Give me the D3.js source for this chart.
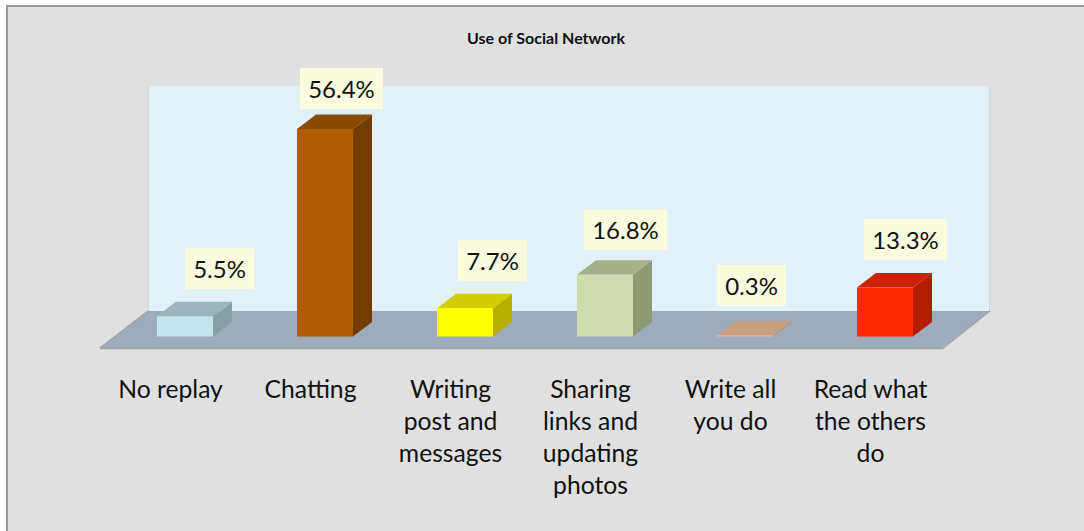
<!DOCTYPE html>
<html>
<head>
<meta charset="utf-8">
<script src="https://cdn.jsdelivr.net/npm/d3@7"></script>
<style>
  html, body { margin: 0; padding: 0; background: #fff; }
  svg { display: block; }
  text { font-family: Lato, "Open Sans", sans-serif; fill: #111; }
</style>
</head>
<body>
<svg id="chart" width="1084" height="531"></svg>
<script>
const categories = ["No replay", "Chatting", "Writing post and messages", "Sharing links and updating photos", "Write all you do", "Read what the others do"];
const categoryLines = [["No replay"], ["Chatting"], ["Writing", "post and", "messages"], ["Sharing", "links and", "updating", "photos"], ["Write all", "you do"], ["Read what", "the others", "do"]];
const shares = [5.5, 56.4, 7.7, 16.8, 0.3, 13.3];
const shareLabels = ["5.5%", "56.4%", "7.7%", "16.8%", "0.3%", "13.3%"];
const frontColors = ["#c5e5ee", "#ad5c00", "#ffff00", "#cfdcab", "#eebb95", "#ff2a00"];
const topColors = ["#9db4bc", "#8a4a00", "#d4cc00", "#a5b088", "#c8a07f", "#cc2200"];
const sideColors = ["#879fa5", "#733d00", "#b8b000", "#8e9a75", "#b58c6e", "#b31e00"];

const W = 1084, H = 531;
const depthX = 19, depthY = -14.5;
const baseY = 336.5;

const svg = d3.select("#chart");

// Outer chart frame
svg.append("rect").attr("x", 7).attr("y", 6).attr("width", W).attr("height", H)
  .attr("fill", "#e0e0e0").attr("stroke", "#9a9a9a").attr("stroke-width", 2);

// Title
svg.append("text").attr("x", 546).attr("y", 44).attr("text-anchor", "middle")
  .style("font-size", "16px").style("font-weight", "700").text("Use of Social Network");

const x = d3.scaleBand().domain(categories).range([115, 955]).paddingInner(0.6).paddingOuter(0.3);
const y = d3.scaleLinear().domain([0, 56.4]).range([baseY, 129]);
const poly = pts => pts.map(p => p.join(",")).join(" ");

// Back wall
svg.append("rect").attr("x", 148.5).attr("y", 86).attr("width", 841).attr("height", 225)
  .attr("fill", "#e2f0f8");
svg.append("path").attr("d", "M148.5,86V311M989.5,86V311").attr("stroke", "#cfd6db").attr("fill", "none");

// Floor of the 3D plot
svg.append("polygon").attr("points", poly([[100, 348], [148, 311], [990, 311], [942, 348]])).attr("fill", "#9eabbc");
svg.append("path").attr("d", "M100,348L148,311M100,348.5H942.5L990,311").attr("stroke", "#a3a3a3").attr("stroke-width", 1.5).attr("fill", "none");

// Extruded bars: side, cap, then front face
const bars = svg.append("g").selectAll("g").data(categories).join("g");
const leftEdge = d => x(d);
const rightEdge = d => x(d) + x.bandwidth();
const topEdge = (d, i) => y(shares[i]);
bars.append("polygon").attr("fill", (d, i) => sideColors[i])
  .attr("points", (d, i) => poly([[rightEdge(d), baseY], [rightEdge(d) + depthX, baseY + depthY], [rightEdge(d) + depthX, topEdge(d, i) + depthY], [rightEdge(d), topEdge(d, i)]]));
bars.append("polygon").attr("fill", (d, i) => topColors[i])
  .attr("points", (d, i) => poly([[leftEdge(d), topEdge(d, i)], [leftEdge(d) + depthX, topEdge(d, i) + depthY], [rightEdge(d) + depthX, topEdge(d, i) + depthY], [rightEdge(d), topEdge(d, i)]]));
bars.append("rect").attr("fill", (d, i) => frontColors[i])
  .attr("x", leftEdge).attr("width", x.bandwidth())
  .attr("y", topEdge).attr("height", (d, i) => baseY - topEdge(d, i));

// Value labels sit on pale tags, nudged off each bar
const tagShift = [[34.5, -12.5], [16.5, -5.5], [27.5, -12.5], [20.5, -10], [6.5, -15], [20.5, -13]];
const tagH = 41;
const tags = svg.append("g").selectAll("g").data(categories).join("g")
  .attr("transform", (d, i) => `translate(${x(d) + x.bandwidth() / 2 + tagShift[i][0]},${y(shares[i]) + depthY + tagShift[i][1] - tagH / 2})`);
tags.append("rect").attr("fill", "#fbfbdd")
  .attr("x", (d, i) => shareLabels[i].length > 4 ? -41.5 : -34.5)
  .attr("width", (d, i) => shareLabels[i].length > 4 ? 83 : 69)
  .attr("y", -tagH / 2).attr("height", tagH);
tags.append("text").attr("text-anchor", "middle").attr("y", 9.5)
  .style("font-size", "24px").text((d, i) => shareLabels[i]);

// Category labels under the floor
const cats = svg.append("g").selectAll("text").data(categories).join("text")
  .attr("text-anchor", "middle").style("font-size", "24.7px")
  .attr("transform", d => `translate(${x(d) + x.bandwidth() / 2 - 14.5},398)`);
cats.selectAll("tspan").data((d, i) => categoryLines[i]).join("tspan")
  .attr("x", 0).attr("dy", (d, i) => i ? 32 : 0).text(d => d);
</script>
</body>
</html>
